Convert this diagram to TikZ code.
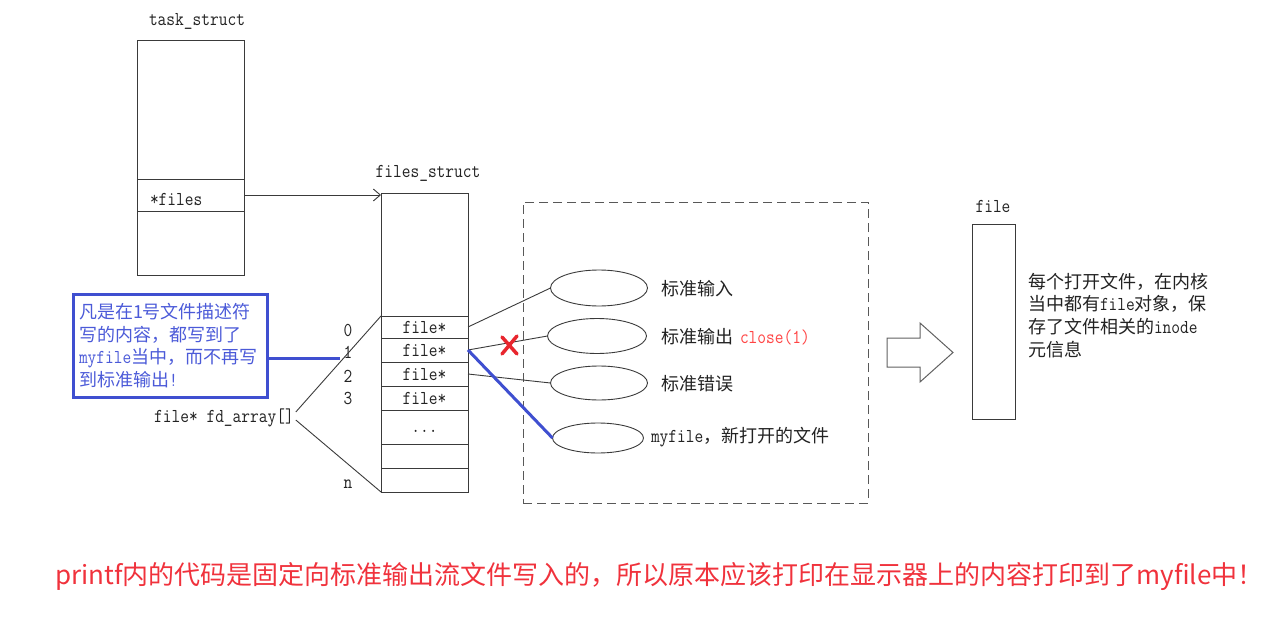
\documentclass[tikz,border=0pt]{standalone}
\usepackage{fontspec}
\setmainfont{Noto Sans CJK SC}
\newfontfamily\cjkfam{Noto Sans CJK SC}
\newfontfamily\lmmono[FakeStretch=0.86]{Latin Modern Mono}
\usetikzlibrary{shapes.geometric,arrows.meta}
\definecolor{txt}{HTML}{222222}
\definecolor{ln}{HTML}{3A3A3A}
\definecolor{bl}{HTML}{3F4FD0}
\definecolor{bltxt}{HTML}{4B5AD8}
\definecolor{redx}{HTML}{E8262E}
\definecolor{closered}{HTML}{FF4444}
\definecolor{redtxt}{HTML}{F0323C}
\newcommand\monof{\lmmono\fontsize{19.7}{22.7}\selectfont}
\newcommand\M[1]{{\monof #1}}
\newcommand\CJ{\cjkfam\fontsize{18}{22.7}\selectfont}
\tikzset{
  box/.style={draw=ln,line width=0.9pt,inner sep=0pt,outer sep=0pt,text=txt,font=\monof},
  lbl/.style={inner sep=0pt,outer sep=0pt,text=txt,font=\CJ},
  mono/.style={inner sep=0pt,outer sep=0pt,text=txt,font=\monof},
  wire/.style={draw=ln,line width=0.9pt},
  ell/.style={ellipse,draw=ln,line width=0.9pt,inner sep=0pt,outer sep=0pt},
  blueline/.style={draw=bl,line width=3pt},
}
\begin{document}
\begin{tikzpicture}[x=1pt,y=-1pt]
\useasboundingbox (0,0) rectangle (1267,642);
% task_struct
\node[mono] (tsl) at (197,21) {task\_struct};
\node[box,minimum width=107pt,minimum height=139pt] (tstop) at (190.5,109.5) {};
\node[box,minimum width=107pt,minimum height=32pt] (tsf) at (190.5,195) {};
\node[box,minimum width=107pt,minimum height=64pt] (tsbot) at (190.5,243) {};
\node[mono,anchor=west] (tsft) at (150,199) {*files};
% files_struct
\node[mono] (fsl) at (428,173) {files\_struct};
\node[box,minimum width=87pt,minimum height=123pt] (fstop) at (424.5,254.5) {};
\node[box,minimum width=87pt,minimum height=22pt] (r0) at (424.5,327) {file*};
\node[box,minimum width=87pt,minimum height=24pt] (r1) at (424.5,350) {file*};
\node[box,minimum width=87pt,minimum height=24pt] (r2) at (424.5,374) {file*};
\node[box,minimum width=87pt,minimum height=24pt] (r3) at (424.5,398) {file*};
\node[box,minimum width=87pt,minimum height=34pt] (r4) at (424.5,427) {};
\node[mono] (dots) at (424.5,431) {...};
\node[box,minimum width=87pt,minimum height=24pt] (r5) at (424.5,456) {};
\node[box,minimum width=87pt,minimum height=24pt] (r6) at (424.5,480) {};
\draw[wire,-{Straight Barb[length=7pt,width=12pt]}] (tsf.east) -- (tsf.east -| fstop.west);
% indices
\node[mono] (i0) at (348,330) {0};
\node[mono] (i1) at (348,352) {1};
\node[mono] (i2) at (348,376) {2};
\node[mono] (i3) at (348,398) {3};
\node[mono] (in) at (348,484) {n};
\node[mono] (fd) at (224,418) {file* fd\_array[]};
\draw[wire] ([xshift=2pt,yshift=6pt]fd.east) -- (r0.north west);
\draw[wire] ([xshift=2pt,yshift=-2pt]fd.east) -- (r6.south west);
% blue note
\node[draw=bl,line width=3pt,minimum width=194pt,minimum height=103pt,inner xsep=6pt,inner ysep=0pt,text width=182pt,align=left,text=bltxt,font=\CJ] (note) at (170,345.5)
  {凡是在1号文件描述符\\写的内容，都写到了\\\M{myfile}当中，而不再写\\到标准输出\M{!}};
\coordinate (noteend) at (340,358);
\draw[blueline] (note.east |- noteend) -- (noteend);
% group of files
\node[draw=ln!85,line width=1pt,dash pattern=on 9pt off 5pt,minimum width=345pt,minimum height=301pt,inner sep=0pt] (grp) at (695.5,352.5) {};
\node[ell,minimum width=97pt,minimum height=36pt] (e1) at (599,288) {};
\node[ell,minimum width=99pt,minimum height=35pt] (e2) at (597,336) {};
\node[ell,minimum width=97pt,minimum height=34pt] (e3) at (599,383) {};
\node[ell,minimum width=91pt,minimum height=30pt] (e4) at (598,438) {};
\draw[wire] (r0.east) -- (e1.west);
\draw[wire] (r1.east) -- (e2.west);
\draw[wire] (r2.east) -- (e3.west);
\draw[blueline] (r1.east) -- (e4.west);
\draw[redx,line width=3.5pt,line cap=round] (502,337) -- (517,354) (517,336) -- (502,354);
\node[lbl,anchor=west] (t1) at (661,289) {标准输入};
\node[lbl,anchor=west] (t2) at (661,337) {标准输出\hspace{7pt}\textcolor{closered}{\M{close(1)}}};
\node[lbl,anchor=west] (t3) at (661,384) {标准错误};
\node[lbl,anchor=west] (t4) at (651,437) {\M{myfile}，新打开的文件};
% block arrow
\draw[draw=ln!80,line width=1pt,fill=white] (887,338) -- (920,338) -- (920,323) -- (953,352.5) -- (920,382) -- (920,367) -- (887,367) -- cycle;
% file object
\node[mono] (fl) at (993,206) {file};
\node[box,minimum width=43pt,minimum height=195pt] (fbox) at (993.5,321.5) {};
\node[lbl,anchor=north west,align=left] (fdesc) at (1028,273) {每个打开文件，在内核\\当中都有\M{file}对象，保\\存了文件相关的\M{inode}\\元信息};
% bottom note
\node[anchor=west,inner sep=0pt,text=redtxt,font=\cjkfam\fontsize{26}{30}\selectfont] (bottom) at (55,577) {printf内的代码是固定向标准输出流文件写入的，所以原本应该打印在显示器上的内容打印到了myfile中！};
\end{tikzpicture}
\end{document}
